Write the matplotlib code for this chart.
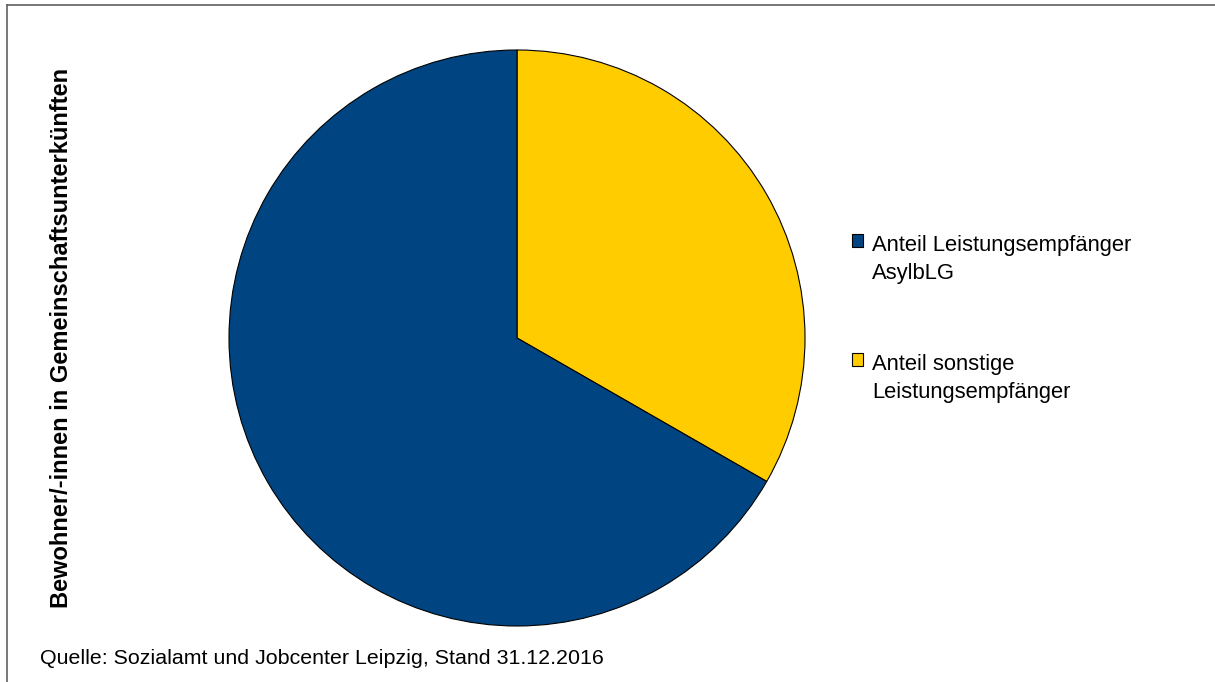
import matplotlib
matplotlib.use('Agg')
import matplotlib.pyplot as plt
from matplotlib.lines import Line2D
from matplotlib.patches import Rectangle, Wedge
from matplotlib.legend_handler import HandlerPatch

plt.rcParams['font.family'] = ['Liberation Sans', 'DejaVu Sans']

# data (shares in %)
labels = ['Anteil sonstige\nLeistungsempfänger', 'Anteil Leistungsempfänger\nAsylbLG']
values = [33.3, 66.7]
colors = ['#FFCC00', '#004582']

ylabel = 'Bewohner/-innen in Gemeinschaftsunterkünften'
source = 'Quelle: Sozialamt und Jobcenter Leipzig, Stand 31.12.2016'

W, H = 1215, 682
fig = plt.figure(figsize=(W / 100, H / 100), dpi=100)

# pie centred at (517, 338) px, radius 288 px
cx, cy, r = 517, 338, 288
ax = fig.add_axes([(cx - r) / W, (H - cy - r) / H, 2 * r / W, 2 * r / H])
wedges, _ = ax.pie(values, colors=colors, startangle=90, counterclock=False,
                   radius=1, wedgeprops=dict(edgecolor='black', linewidth=0.8))
ax.set_xlim(-1, 1)
ax.set_ylim(-1, 1)


# legend marker sits next to the first line of the label
def top_square(legend, orig_handle, xdescent, ydescent, width, height, fontsize):
    return Rectangle((-xdescent, -ydescent + 14), width, height)


leg_fs = 15.8
leg = fig.legend([wedges[1], wedges[0]], [labels[1], labels[0]],
                 loc='upper left', bbox_to_anchor=(843 / W, 1 - 226 / H),
                 bbox_transform=fig.transFigure, frameon=False,
                 fontsize=leg_fs, handlelength=0.52, handleheight=0.52,
                 handletextpad=0.4, labelspacing=3.18, borderaxespad=0,
                 handler_map={Wedge: HandlerPatch(patch_func=top_square)})
for t in leg.get_texts():
    t.set_linespacing(1.46)
for h in leg.legend_handles:
    h.set_linewidth(0.8)
    h.set_edgecolor('black')

fig.text(62 / W, 1 - 338 / H, ylabel, rotation=90, ha='center', va='center',
         fontsize=17, fontweight='bold')
fig.text(40 / W, 1 - 658 / H, source, ha='left', va='center', fontsize=15.4)

# frame lines (top and left)
fig.add_artist(Line2D([7 / W, 1], [1 - 5 / H, 1 - 5 / H], color='#606060', linewidth=1.2,
                      transform=fig.transFigure))
fig.add_artist(Line2D([7 / W, 7 / W], [0, 1 - 5 / H], color='#606060', linewidth=1.2,
                      transform=fig.transFigure))

fig.savefig('out.png', dpi=100)
